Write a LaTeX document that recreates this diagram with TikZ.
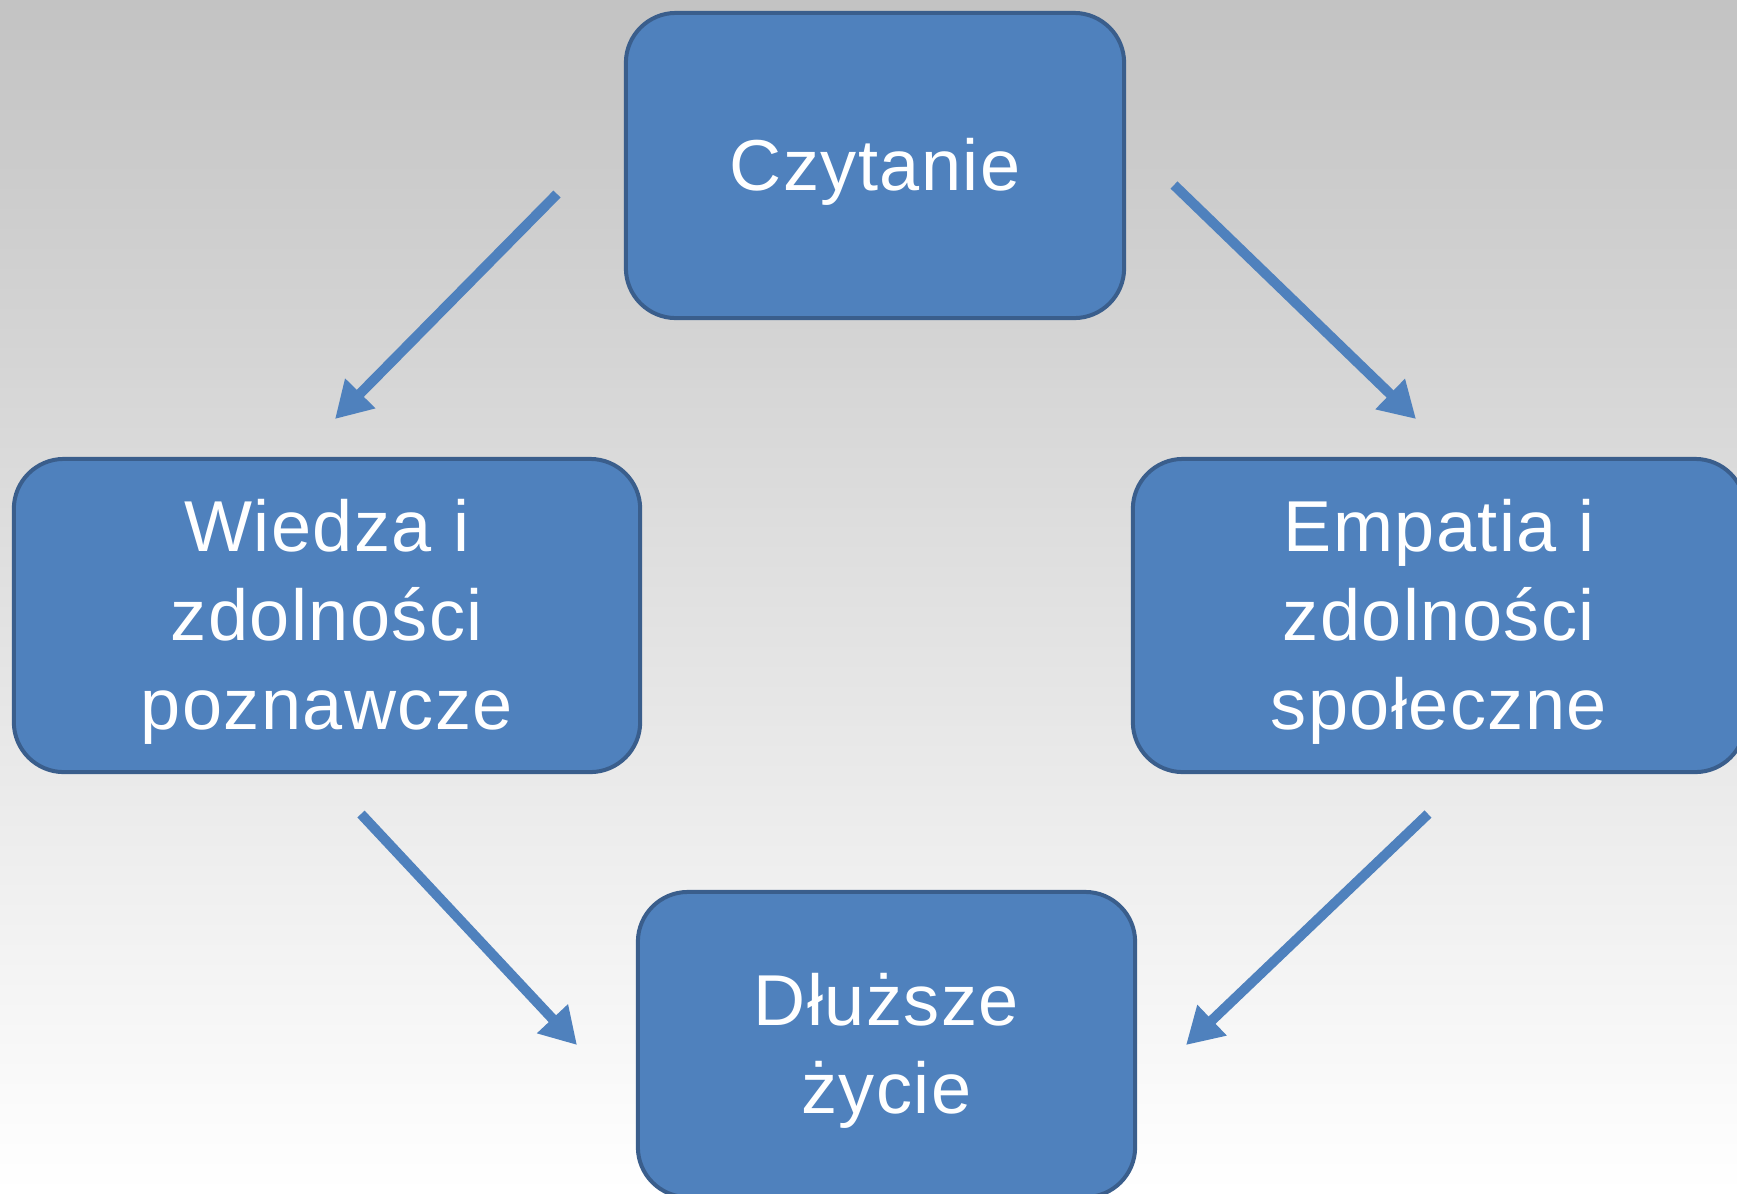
\documentclass[tikz,border=0pt]{standalone}
\usepackage{fontspec}
\setmainfont{Liberation Sans}[LetterSpace=2]
\usetikzlibrary{arrows.meta}
\definecolor{bgtop}{HTML}{C3C3C3}
\definecolor{boxfill}{HTML}{4F81BD}
\definecolor{boxline}{HTML}{3A5E8C}
\newcommand{\topstrut}{\rule{0pt}{0.9em}}
\tikzset{
  box/.style = {rectangle, rounded corners=0.5cm, draw=boxline, line width=0.04cm,
    fill=boxfill, text=white, align=center, inner sep=0pt,
    font=\fontsize{20.5}{25.3}\selectfont}
}
\tikzset{arr/.style = {draw=boxfill, line width=0.1cm, -{Triangle[length=0.36cm,width=0.4cm]}}}

\begin{document}
\begin{tikzpicture}[x=0.01cm,y=-0.01cm]
  \useasboundingbox (0,0) rectangle (1737,1193);
  \clip (0,0) rectangle (1737,1193);
  \shade[top color=bgtop, bottom color=white] (0,0) rectangle (1737,1193);
  \node (czyt) at (875,165.5) [box, minimum width=4.98cm, minimum height=3.05cm] {\topstrut Czytanie};
  \node (wied) at (327,615.5) [box, minimum width=6.26cm, minimum height=3.13cm] {\topstrut Wiedza i\\zdolności\\poznawcze};
  \node (empa) at (1439,615.5) [box, minimum width=6.12cm, minimum height=3.13cm] {\topstrut Empatia i\\zdolności\\społeczne};
  \node (dluz) at (886.5,1044.5) [box, minimum width=4.97cm, minimum height=3.05cm] {\topstrut Dłuższe\\życie};
  \coordinate (a1s) at (557,194);   \coordinate (a1e) at (335,419);
  \coordinate (a2s) at (1174,185);  \coordinate (a2e) at (1416,419);
  \coordinate (a3s) at (361,814);   \coordinate (a3e) at (577,1045);
  \coordinate (a4s) at (1428,814);  \coordinate (a4e) at (1186,1045);
  \draw[arr] (a1s) -- (a1e);
  \draw[arr] (a2s) -- (a2e);
  \draw[arr] (a3s) -- (a3e);
  \draw[arr] (a4s) -- (a4e);
\end{tikzpicture}
\end{document}
